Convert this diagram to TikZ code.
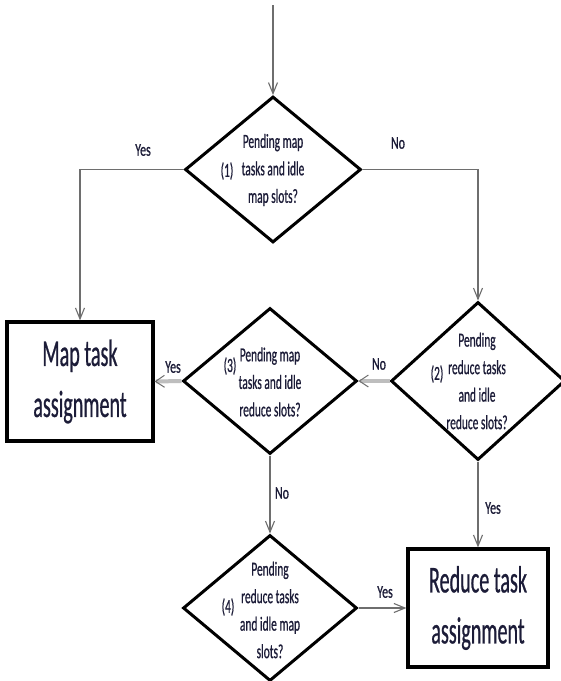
\documentclass[tikz,border=0pt]{standalone}
\usepackage{fontspec}
\setmainfont{Carlito}
\newfontfamily\dfont[FakeStretch=0.57,FakeBold=0.6]{Carlito}
\newfontfamily\bfont[FakeStretch=0.53,FakeBold=0.6]{Carlito}
\newfontfamily\lfont[FakeStretch=0.66,FakeBold=0.8]{Carlito}
\usetikzlibrary{shapes.geometric,arrows.meta}
\definecolor{conn}{HTML}{6E6E6E}
\definecolor{thickconn}{HTML}{BEBEBE}
\definecolor{txt}{HTML}{1C1C38}
\begin{document}
\begin{tikzpicture}[x=1pt,y=-1pt,
  decision/.style={shape=diamond, draw=black, line width=3pt, inner sep=0pt, minimum width=176pt, minimum height=146pt},
  actionbox/.style={draw=black, line width=3.2pt, fill=white},
  qtext/.style={align=center, text=txt, font=\dfont\fontsize{20}{27.5}\selectfont, inner sep=0pt},
  numtext/.style={text=txt, font=\dfont\fontsize{20}{27.5}\selectfont, inner sep=0pt},
  btext/.style={align=center, text=txt, font=\bfont\fontsize{38}{51}\selectfont},
  lbl/.style={text=txt, font=\lfont\fontsize{18}{20}\selectfont, inner sep=0pt},
  link/.style={draw=conn, line width=1.1pt, -{Straight Barb[length=11pt,width=9pt]}},
  fatlink/.style={draw=thickconn, line width=4pt, -{Straight Barb[length=9pt,width=12pt,line width=1pt,color=conn]}}
]
\fill[white] (0,0) rectangle (561,681);
\useasboundingbox (0,0) rectangle (561,681);

\node[decision] (d1) at (273,169.5) {};
\node[decision, minimum width=174pt, minimum height=158pt] (d2) at (478,381) {};
\node[decision, minimum width=174pt] (d3) at (270,381) {};
\node[decision, minimum width=174pt] (d4) at (270,608) {};

\node[actionbox, btext, minimum width=146pt, minimum height=119pt] (map) at (80,381.5) {Map task\\assignment};
\node[actionbox, btext, minimum width=140pt, minimum height=118pt] (red) at (478,608) {Reduce task\\assignment};

\coordinate (start) at (273,5);
\draw[link] (start) -- (d1.north);
\draw[link] (d1.west) -| (map.north);
\draw[link] (d1.east) -| (d2.north);
\draw[fatlink] (d2.west) -- (d3.east);
\draw[fatlink] (d3.west) -- (map.east);
\draw[link] (d3.south) -- (d4.north);
\draw[link] (d2.south) -- (red.north);
\draw[link] (d4.east) -- (red.west);

\node[lbl] (l1) at (143,150) {Yes};
\node[lbl] (l2) at (398,143) {No};
\node[lbl] (l3) at (379,364) {No};
\node[lbl] (l4) at (173,367) {Yes};
\node[lbl] (l5) at (282,493) {No};
\node[lbl] (l6) at (493,508) {Yes};
\node[lbl] (l7) at (385,592) {Yes};

\node[qtext] (q1) at (273,170) {Pending map\\tasks and idle\\map slots?};
\node[numtext] (n1) at (227,171) {(1)};
\node[qtext] (q3) at (270,382) {Pending map\\tasks and idle\\reduce slots?};
\node[numtext] (n3) at (230,366) {(3)};
\node[qtext] (q2) at (477,381) {Pending\\reduce tasks\\and idle\\reduce slots?};
\node[numtext] (n2) at (437,374) {(2)};
\node[qtext] (q4) at (270,610) {Pending\\reduce tasks\\and idle map\\slots?};
\node[numtext] (n4) at (228,607) {(4)};
\end{tikzpicture}
\end{document}
